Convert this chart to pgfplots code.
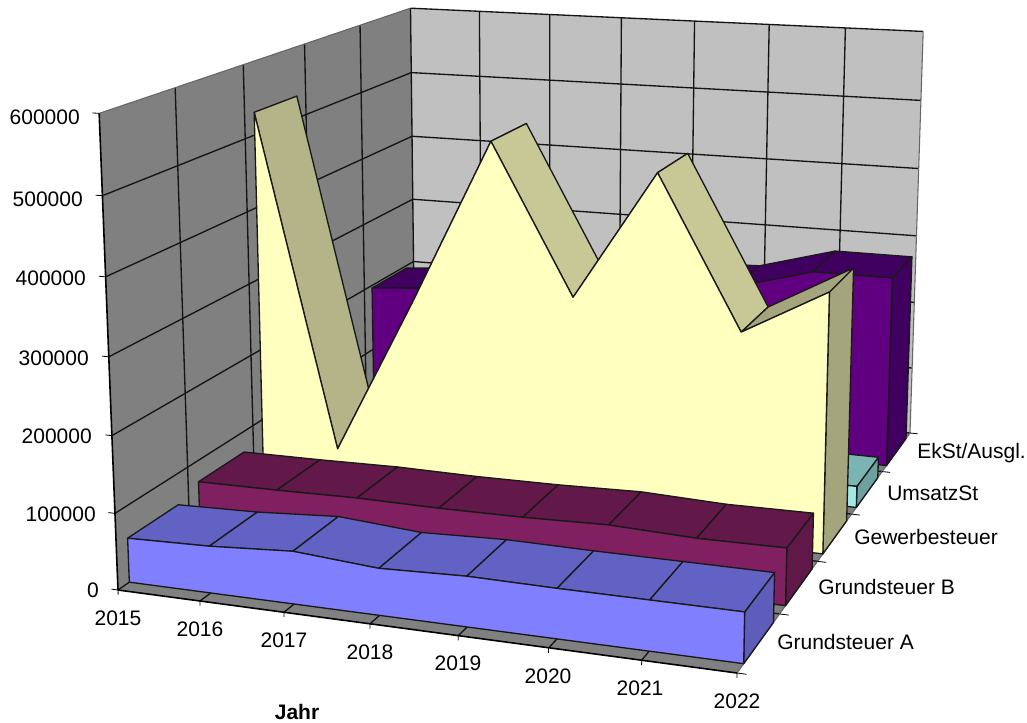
\documentclass[border=0pt]{standalone}
\usepackage{pgfplots}
\usepackage{pgfplotstable}
\usepackage{fontspec}
\setmainfont{Liberation Sans}
\pgfplotsset{compat=1.18}
\definecolor{wallL}{RGB}{128,128,128}
\definecolor{wallB}{RGB}{192,192,192}
\definecolor{gridc}{RGB}{20,20,20}
\definecolor{aF}{RGB}{128,128,255}\definecolor{aT}{RGB}{98,98,196}\definecolor{aS}{RGB}{94,94,186}
\definecolor{bF}{RGB}{128,32,96}\definecolor{bT}{RGB}{98,24,72}\definecolor{bS}{RGB}{96,24,72}
\definecolor{gF}{RGB}{255,255,192}\definecolor{gT}{RGB}{200,200,150}\definecolor{gD}{RGB}{180,180,136}\definecolor{gS}{RGB}{165,165,125}
\definecolor{uF}{RGB}{160,232,232}\definecolor{uT}{RGB}{122,180,180}\definecolor{uS}{RGB}{110,160,160}
\definecolor{eF}{RGB}{96,0,128}\definecolor{eT}{RGB}{64,0,96}\definecolor{eS}{RGB}{64,0,96}
% Jahr, Grundsteuer A, Grundsteuer B, Gewerbesteuer, UmsatzSt, EkSt/Ausgl.
\pgfplotstableread{
Jahr GA GB GW US EK
2015 58000 71000 531000 30000 196000
2016 61000 72000 70000 30000 205000
2017 68000 74000 286000 30000 220000
2018 60000 73000 512000 30000 237000
2019 64000 74000 312000 30000 240000
2020 63000 77000 485000 30000 244000
2021 63000 73000 285000 30000 275000
2022 63000 74000 347000 30000 275000
}\data
% perspective of the 3-D box: (year index, depth 0..1, value) to picture position
\newcommand\pj[3]{\begingroup
  \pgfkeys{/pgf/fpu=true,/pgf/fpu/output format=fixed}%
  \pgfmathsetmacro\W{1-0.08449*(#1)/7+0.28004*(#2)-0.042*(#3)/600000}%
  \pgfmathsetmacro\pu{(118+556.73*(#1)/7+413.22*(#2)-23*(#3)/600000)/\W}%
  \pgfmathsetmacro\pv{(590+26.14*(#1)/7-98.47*(#2)-481.4*(#3)/600000)/\W}%
  \xdef\ptlist{\ptlist(\pu,\pv)}\endgroup}
\newcommand\rs{\gdef\ptlist{}}
\newcommand\poly[1]{\edef\tmp{\noexpand\addplot[mark=none,#1] coordinates {\ptlist} --cycle;}\tmp}
\newcommand\lin[1]{\edef\tmp{\noexpand\addplot[mark=none,#1] coordinates {\ptlist};}\tmp}
\newcommand\seg[7]{\rs\pj{#1}{#2}{#3}\pj{#4}{#5}{#6}\lin{#7}}
\tikzset{ol/.style={draw=black!90,line width=1pt,line join=round}}
% column, front depth, back depth, front colour, list i/top colour, side colour
\newcommand\series[6]{%
  \pgfplotstablegetelem{7}{#1}\of\data\let\vl\pgfplotsretval
  \rs\pj{7}{#2}{0}\pj{7}{#3}{0}\pj{7}{#3}{\vl}\pj{7}{#2}{\vl}\poly{fill=#6,ol}%
  \foreach \i/\c in {#5}{%
    \pgfmathtruncatemacro\j{\i+1}%
    \pgfplotstablegetelem{\i}{#1}\of\data\let\va\pgfplotsretval
    \pgfplotstablegetelem{\j}{#1}\of\data\let\vb\pgfplotsretval
    \rs\pj{\i}{#2}{\va}\pj{\j}{#2}{\vb}\pj{\j}{#3}{\vb}\pj{\i}{#3}{\va}%
    \poly{fill=\c,ol}%
  }%
  \rs\pj{0}{#2}{0}%
  \foreach \i in {0,...,7}{%
    \pgfplotstablegetelem{\i}{#1}\of\data\let\va\pgfplotsretval
    \pj{\i}{#2}{\va}%
  }%
  \pj{7}{#2}{0}\poly{fill=#4,ol}%
}
\newcommand\lab[4]{\node[anchor=#1,inner sep=0pt] at (axis cs:#2,#3) {#4};}
\begin{document}
\begin{tikzpicture}
\begin{axis}[
  scale only axis,width=770.25pt,height=541.5pt,
  xmin=0,xmax=1027,ymin=0,ymax=722,y dir=reverse,
  axis lines=none,clip=false,
  nodes={font=\fontsize{15.75}{18}\selectfont}]
\addplot[draw=none,fill=white,mark=none] coordinates {(0,0)(1027,0)(1027,722)(0,722)} --cycle;
% floor and walls
\rs\pj{0}{0}{0}\pj{7}{0}{0}\pj{7}{1}{0}\pj{0}{1}{0}\poly{fill=wallL,draw=none}
\rs\pj{0}{1}{0}\pj{7}{1}{0}\pj{7}{1}{600000}\pj{0}{1}{600000}\poly{fill=wallB,draw=none}
\rs\pj{0}{0}{0}\pj{0}{1}{0}\pj{0}{1}{600000}\pj{0}{0}{600000}\poly{fill=wallL,draw=none}
% grid
\tikzset{gl/.style={draw=gridc,line width=1pt},ge/.style={draw=black!60,line width=0.8pt}}
\foreach \v in {0,100000,200000,300000,400000,500000}{%
  \seg{0}{0}{\v}{0}{1}{\v}{gl}
  \seg{0}{1}{\v}{7}{1}{\v}{gl}
}
\foreach \d in {0.2,0.4,0.6,0.8}{%
  \seg{0}{\d}{0}{0}{\d}{600000}{gl}
  \seg{0}{\d}{0}{7}{\d}{0}{gl}
}
\foreach \i in {1,...,6}{%
  \seg{\i}{1}{0}{\i}{1}{600000}{gl}
  \seg{\i}{0}{0}{\i}{1}{0}{gl}
}
\seg{0}{1}{0}{0}{1}{600000}{gl}
\seg{0}{0}{600000}{0}{1}{600000}{ge}
\seg{0}{1}{600000}{7}{1}{600000}{gl}
\seg{7}{1}{0}{7}{1}{600000}{ge}
\seg{7}{0}{0}{7}{1}{0}{ge}
\seg{0}{0}{0}{0}{0}{600000}{draw=black,line width=1.2pt}
\seg{0}{0}{0}{7}{0}{0}{draw=black,line width=1.2pt}
% ticks
\foreach \v in {0,100000,200000,300000,400000,500000,600000}{\seg{-0.08}{0}{\v}{0}{0}{\v}{draw=black,line width=0.6pt}}
\foreach \i in {0,...,7}{\seg{\i}{0}{-6000}{\i}{0}{0}{draw=black,line width=0.6pt}}
\foreach \d in {0,0.2,0.4,0.6,0.8,1}{\seg{7}{\d}{0}{7.1}{\d}{0}{draw=black,line width=0.6pt}}
% series, back to front
\series{EK}{0.83}{0.97}{eF}{0/eT,1/eT,2/eT,3/eT,4/eT,5/eT,6/eT}{eS}
\series{US}{0.63}{0.77}{uF}{0/uT,1/uT,2/uT,3/uT,4/uT,5/uT,6/uT}{uS}
\series{GW}{0.43}{0.57}{gF}{0/gD,1/gT,2/gT,3/gT,4/gT,5/gT,6/gS}{gS}
\series{GB}{0.23}{0.37}{bF}{0/bT,1/bT,2/bT,3/bT,4/bT,5/bT,6/bT}{bS}
\series{GA}{0.03}{0.17}{aF}{0/aT,1/aT,2/aT,3/aT,4/aT,5/aT,6/aT}{aS}
% labels
\lab{east}{80}{117}{600000}
\lab{east}{83}{199}{500000}
\lab{east}{86}{278}{400000}
\lab{east}{89}{358}{300000}
\lab{east}{92}{436}{200000}
\lab{east}{96}{514}{100000}
\lab{east}{99}{590}{0}
\lab{center}{118}{618}{2015}
\lab{center}{200}{629}{2016}
\lab{center}{284}{640}{2017}
\lab{center}{370}{652}{2018}
\lab{center}{458}{663}{2019}
\lab{center}{548}{676}{2020}
\lab{center}{640}{688}{2021}
\lab{center}{737}{701}{2022}
\lab{west}{777}{642}{Grundsteuer A}
\lab{west}{818}{587}{Grundsteuer B}
\lab{west}{854}{537}{Gewerbesteuer}
\lab{west}{887}{493}{UmsatzSt}
\lab{west}{917}{453}{EkSt/Ausgl.}
\node[inner sep=0pt,font=\fontsize{15.75}{18}\selectfont\bfseries] at (axis cs:297,712) {Jahr};
\end{axis}
\end{tikzpicture}
\end{document}
